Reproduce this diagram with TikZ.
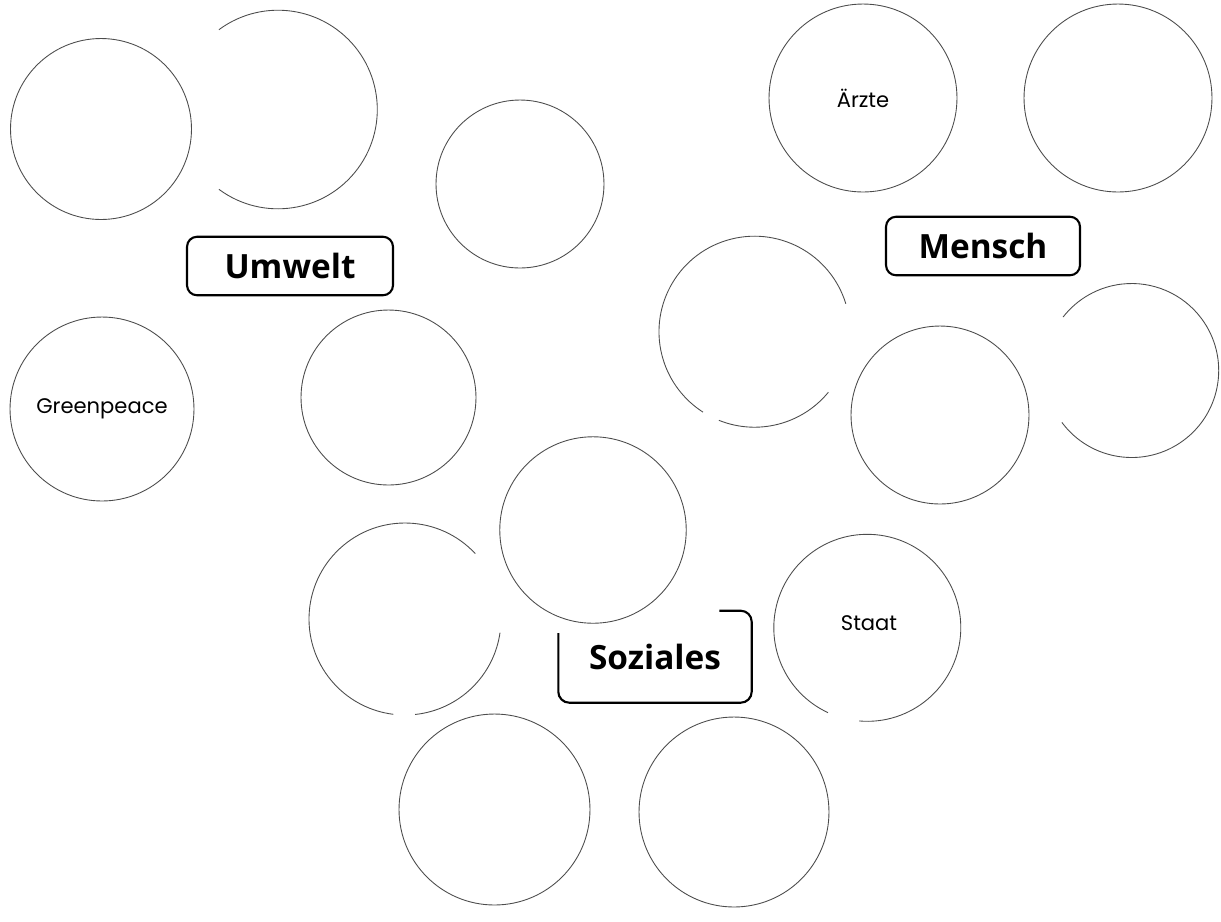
\documentclass[tikz,border=0pt]{standalone}
\usepackage{fontspec}
\setmainfont{Open Sans}
\newfontfamily\handfont{Poppins}
\usetikzlibrary{positioning}

\begin{document}
\begin{tikzpicture}[
    x=0.02cm, y=0.02cm,
    bubble/.style={circle, draw=black!70, line width=0.5pt, inner sep=0pt, minimum size=#1, font=\handfont\fontsize{12}{14}\selectfont},
    rand/.style={draw=black!70, line width=0.5pt},
    thema/.style={draw=black, line width=1.2pt, rounded corners=0.2cm, inner sep=0pt, font=\bfseries\fontsize{19}{22}\selectfont},
    themaText/.style={inner sep=0pt, font=\bfseries\fontsize{19}{22}\selectfont}
]
    \useasboundingbox (0,0) rectangle (1221,-921);

    % Umwelt
    \node[bubble=3.62cm] (u1) at (101,-129) {};
    \draw[rand] (278,-109.5) ++(-126.5:99.3) arc[start angle=-126.5, end angle=126.5, radius=99.3];
    \node[bubble=3.36cm] (u3) at (520,-184) {};
    \node[thema, minimum width=4.12cm, minimum height=1.17cm] (umwelt) at (290,-266) {Umwelt};
    \node[bubble=3.68cm] (green) at (102,-409) {Greenpeace};
    \node[bubble=3.5cm] (u5) at (388.5,-397.5) {};

    % Mensch
    \node[bubble=3.76cm] (aerzte) at (863,-98) {Ärzte};
    \node[bubble=3.76cm] (m2) at (1118,-98) {};
    \node[thema, minimum width=3.88cm, minimum height=1.17cm] (mensch) at (983,-246) {Mensch};
    \draw[rand] (754.5,-331.7) ++(17:95.5) arc[start angle=17, end angle=237.4, radius=95.5];
    \draw[rand] (754.5,-331.7) ++(-111.9:95.5) arc[start angle=-111.9, end angle=-39.3, radius=95.5];
    \node[bubble=3.56cm] (m4) at (940,-415) {};
    \draw[rand] (1131.7,-370.5) ++(-143.4:87) arc[start angle=-143.4, end angle=142.1, radius=87];

    % Soziales
    \node[bubble=3.73cm] (s1) at (593,-530) {};
    \draw[rand] (405,-619) ++(42.9:96) arc[start angle=42.9, end angle=263, radius=96];
    \draw[rand] (405,-619) ++(-84:96) arc[start angle=-84, end angle=-8.2, radius=96];
    \node[themaText] (soziales) at (655,-657) {Soziales};
    \draw[draw=black, line width=1.2pt, rounded corners=0.22cm]
        (558.3,-633) -- (558.3,-702.7) -- (751.7,-702.7) -- (751.7,-610.7) -- (719.3,-610.7);
    \draw[rand] (867.3,-627.8) ++(-95:93.5) arc[start angle=-95, end angle=245.1, radius=93.5];
    \node[inner sep=0pt, font=\handfont\fontsize{12}{14}\selectfont] (staat) at (869,-623) {Staat};
    \node[bubble=3.82cm] (s4) at (494.5,-809.5) {};
    \node[bubble=3.8cm] (s5) at (734,-812) {};

\end{tikzpicture}
\end{document}
